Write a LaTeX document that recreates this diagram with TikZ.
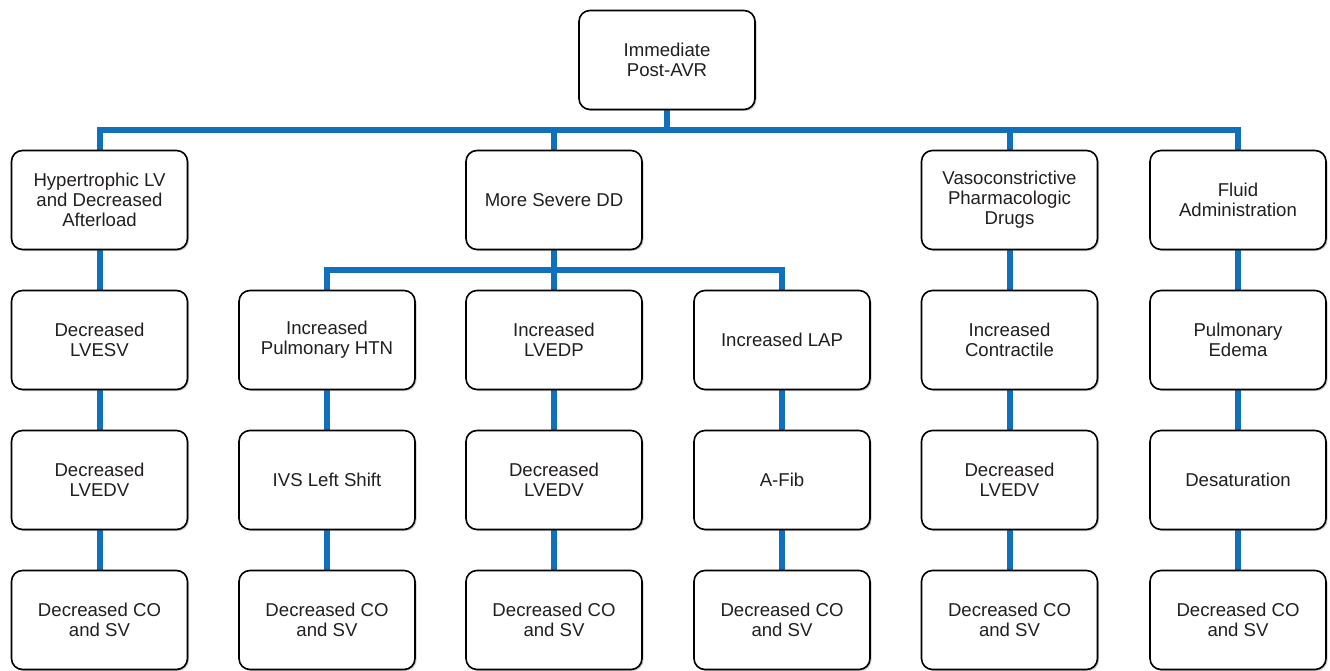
\documentclass[tikz,border=0pt]{standalone}
\usepackage{fontspec}
\setmainfont{Liberation Sans}
\usetikzlibrary{shadows,backgrounds}
\definecolor{linkblue}{RGB}{16,112,188}
\definecolor{txtgray}{RGB}{35,31,32}
\begin{document}
\begin{tikzpicture}[x=1pt, y=-1pt,
    box/.style={draw=black, line width=1.6pt, fill=white, rounded corners=11pt,
      minimum width=176pt, minimum height=99pt, inner sep=2pt, align=center,
      text=txtgray, font=\fontsize{18.6}{20}\selectfont,
      drop shadow={shadow xshift=1.5pt, shadow yshift=-1.5pt, opacity=0.35, fill=black!60}},
    link/.style={draw=linkblue, line width=6pt}]

      \useasboundingbox (0,0) rectangle (1330,671);

      % Top
      \node[box] (n0) at (667,60) {Immediate\\Post-AVR};

      % Row 1
      \node[box] (a1) at (99.5,200) {Hypertrophic LV\\and Decreased\\Afterload};
      \node[box] (a3) at (554,200) {More Severe DD};
      \node[box] (a5) at (1009.5,200) {Vasoconstrictive\\Pharmacologic\\Drugs};
      \node[box] (a6) at (1238,200) {Fluid\\Administration};

      % Row 2
      \node[box] (b1) at (99.5,340) {Decreased\\LVESV};
      \node[box] (b2) at (327,340) {Increased\\Pulmonary HTN};
      \node[box] (b3) at (554,340) {Increased\\LVEDP};
      \node[box] (b4) at (782,340) {Increased LAP};
      \node[box] (b5) at (1009.5,340) {Increased\\Contractile};
      \node[box] (b6) at (1238,340) {Pulmonary\\Edema};

      % Row 3
      \node[box] (c1) at (99.5,480) {Decreased\\LVEDV};
      \node[box] (c2) at (327,480) {IVS Left Shift};
      \node[box] (c3) at (554,480) {Decreased\\LVEDV};
      \node[box] (c4) at (782,480) {A-Fib};
      \node[box] (c5) at (1009.5,480) {Decreased\\LVEDV};
      \node[box] (c6) at (1238,480) {Desaturation};

      % Row 4
      \node[box] (d1) at (99.5,620) {Decreased CO\\and SV};
      \node[box] (d2) at (327,620) {Decreased CO\\and SV};
      \node[box] (d3) at (554,620) {Decreased CO\\and SV};
      \node[box] (d4) at (782,620) {Decreased CO\\and SV};
      \node[box] (d5) at (1009.5,620) {Decreased CO\\and SV};
      \node[box] (d6) at (1238,620) {Decreased CO\\and SV};

      \begin{pgfonlayer}{background}
        % Bus under top box
        \foreach \t in {a1,a3,a5,a6}
          \draw[link] (n0.south) |- ([yshift=20pt]\t.north) -- (\t.north);

        % Bus under More Severe DD
        \foreach \t in {b2,b3,b4}
          \draw[link] (a3.south) |- ([yshift=20pt]\t.north) -- (\t.north);

        % Columns
        \draw[link] (a1) -- (b1);
        \draw[link] (a5) -- (b5);
        \draw[link] (a6) -- (b6);
        \foreach \i in {1,...,6} {
          \draw[link] (b\i) -- (c\i);
          \draw[link] (c\i) -- (d\i);
        }
      \end{pgfonlayer}

\end{tikzpicture}
\end{document}
